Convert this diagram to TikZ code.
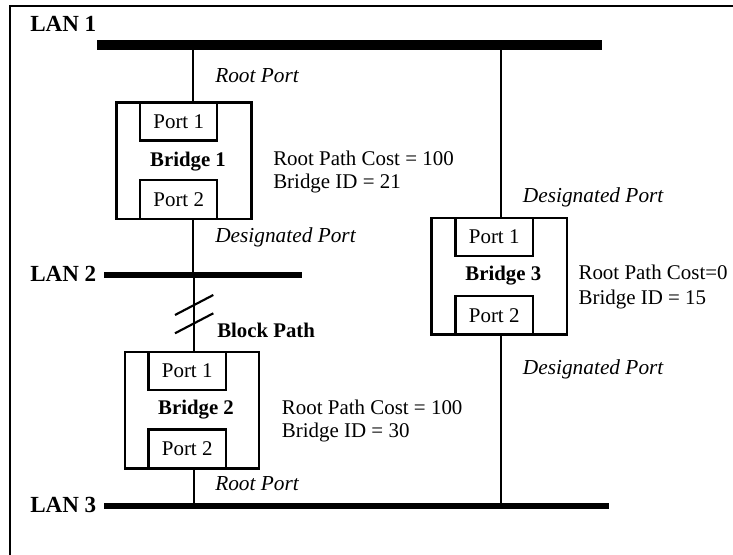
\documentclass[tikz,border=0pt]{standalone}
\usepackage{fontspec}
\setmainfont{Liberation Serif}
\begin{document}
\begin{tikzpicture}[x=0.75pt,y=-0.75pt,
  txt/.style={font=\fontsize{15.7}{18}\selectfont, inner sep=0pt, anchor=base west},
  ital/.style={txt, font=\fontsize{16}{18}\selectfont\itshape},
  lanlbl/.style={font=\fontsize{17.3}{20}\selectfont\bfseries, inner sep=0pt, anchor=base west},
  blbl/.style={font=\fontsize{15.6}{18}\selectfont\bfseries, inner sep=0pt, anchor=base},
  bridgebox/.style={draw, line width=1.8pt, minimum width=101.5pt, minimum height=87.4pt, inner sep=0pt},
  portbox/.style={draw, line width=1.8pt, minimum width=57.8pt, minimum height=28.5pt, inner sep=0pt,
    font=\fontsize{15.7}{18}\selectfont},
  wire/.style={line width=1.6pt},
  frame/.style={line width=1.9pt}]
\useasboundingbox (0,0) rectangle (733,555);
% frame
\coordinate (fr0) at (10,6);
\coordinate (fr1) at (733,6);
\coordinate (fr2) at (10,555);
\draw[frame] (fr2) -- (fr0) -- (fr1);

% LAN buses
\coordinate (lan1w) at (97,45);  \coordinate (lan1e) at (602,45);
\coordinate (lan2w) at (104,275); \coordinate (lan2e) at (302,275);
\coordinate (lan3w) at (104,506); \coordinate (lan3e) at (609,506);
\draw[line width=7.5pt] (lan1w) -- (lan1e);
\draw[line width=5pt] (lan2w) -- (lan2e);
\draw[line width=4.5pt] (lan3w) -- (lan3e);
\node[lanlbl] (tl1) at (30,32) {LAN 1};
\node[lanlbl] (tl2) at (30,282) {LAN 2};
\node[lanlbl] (tl3) at (30,512.5) {LAN 3};

% Bridge boxes
\node[bridgebox] (b1) at (184,160.7) {};
\node[bridgebox, minimum width=100.5pt] (b2) at (192.2,410.1) {};
\node[bridgebox] (b3) at (499.2,276.3) {};

\node[portbox, anchor=north] (p11) at (b1.north -| 178.7,0) {Port 1};
\node[portbox, anchor=south, minimum height=29.2pt] (p12) at (b1.south -| 178.7,0) {Port 2};
\node[portbox, anchor=north] (p21) at (b2.north -| 187.2,0) {Port 1};
\node[portbox, anchor=south, minimum height=29pt] (p22) at (b2.south -| 187.2,0) {Port 2};
\node[portbox, anchor=north] (p31) at (b3.north -| 494.2,0) {Port 1};
\node[portbox, anchor=south, minimum height=29pt] (p32) at (b3.south -| 494.2,0) {Port 2};

\node[blbl] (n1) at (188,166.5) {Bridge 1};
\node[blbl] (n2) at (196,415) {Bridge 2};
\node[blbl] (n3) at (503.3,280.7) {Bridge 3};

% connectors
\coordinate (c1a) at (193.3,45);
\coordinate (c1b) at (193.3,275);
\coordinate (c2a) at (194,275);
\coordinate (c2b) at (194,506);
\coordinate (c3a) at (501,45);
\coordinate (c3b) at (501,506);
\draw[wire] (c1a) -- (c1a |- b1.north);
\draw[wire] (c1a |- b1.south) -- (c1b);
\draw[wire] (c2a) -- (c2a |- b2.north);
\draw[wire] (c2a |- b2.south) -- (c2b);
\draw[wire] (c3a) -- (c3a |- b3.north);
\draw[wire] (c3a |- b3.south) -- (c3b);

% block path marks
\coordinate (s1a) at (175,315); \coordinate (s1b) at (213.3,295);
\coordinate (s2a) at (175,333.3); \coordinate (s2b) at (213.3,313.3);
\draw[wire] (s1a) -- (s1b);
\draw[wire] (s2a) -- (s2b);
\node[blbl, anchor=base west] (bp) at (217,338) {Block Path};

% port role labels
\node[ital] (r1) at (215,83) {Root Port};
\node[ital] (d1) at (215,243) {Designated Port};
\node[ital] (r2) at (215,490.7) {Root Port};
\node[ital] (d3a) at (522.7,202.5) {Designated Port};
\node[ital] (d3b) at (522.7,375) {Designated Port};

% info texts
\node[txt] (i1a) at (273,166) {Root Path Cost = 100};
\node[txt] (i1b) at (273,188.5) {Bridge ID = 21};
\node[txt] (i2a) at (281.7,415) {Root Path Cost = 100};
\node[txt] (i2b) at (281.7,438) {Bridge ID = 30};
\node[txt] (i3a) at (578.3,279.3) {Root Path Cost=0};
\node[txt] (i3b) at (578.3,304.3) {Bridge ID = 15};
\end{tikzpicture}
\end{document}
